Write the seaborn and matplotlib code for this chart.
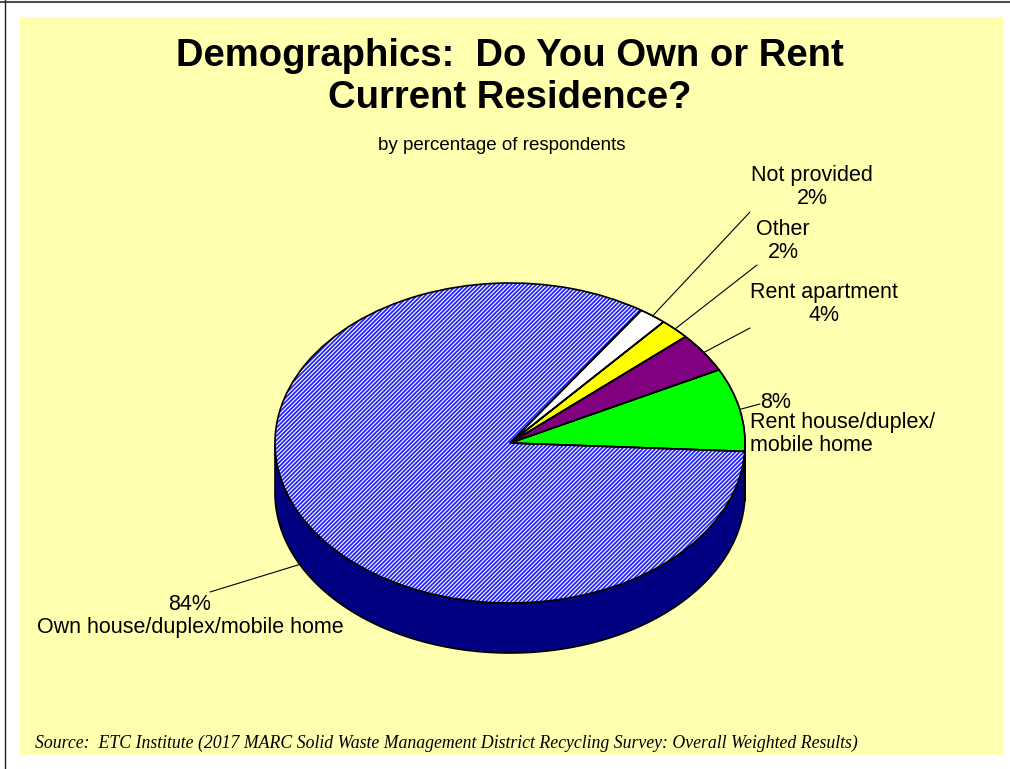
import numpy as np
import matplotlib
matplotlib.use("Agg")
import matplotlib.pyplot as plt
import seaborn as sns
from matplotlib.patches import Polygon, Rectangle
from matplotlib.lines import Line2D

# data, counterclockwise from the right edge of the pie
categories = ["Rent house/duplex/\nmobile home", "Rent apartment", "Other",
              "Not provided", "Own house/duplex/mobile home"]
shares = [8.4, 4.0, 2.1, 1.9, 83.6]
top_colors = ["#00FF00", "#800080", "#FFFF00", "#FFFFFF", "#FFFFFF"]
side_colors = ["#00A000", "#500050", "#B0B000", "#C0C0C0", "#000080"]

title = "Demographics:  Do You Own or Rent\nCurrent Residence?"
subtitle = "by percentage of respondents"
source = ("Source:  ETC Institute (2017 MARC Solid Waste Management District "
          "Recycling Survey: Overall Weighted Results)")

sns.set_style("white")
plt.rcParams["font.family"] = ["Liberation Sans", "DejaVu Sans"]
plt.rcParams["text.color"] = "black"
plt.rcParams["hatch.linewidth"] = 1.3

W, H = 1010, 769
fig = plt.figure(figsize=(W / 100, H / 100), dpi=100, facecolor="white")


def px(x, y):
    """pixel position (from top-left) -> figure fraction"""
    return (x / W, 1 - y / H)


# yellow panel and the thin frame lines (drawn below the axes)
fig.patches.append(Rectangle(px(20, 755), 983 / W, 738 / H, transform=fig.transFigure,
                             facecolor="#FFFFB0", edgecolor="none", zorder=-5))
fig.lines.append(Line2D([0, 1], [1 - 1.5 / H] * 2, transform=fig.transFigure,
                        color="#505050", lw=1.5, zorder=-4))
fig.lines.append(Line2D([4.5 / W] * 2, [0, 1], transform=fig.transFigure,
                        color="#202020", lw=1.0, zorder=-4))

# pie axes: ellipse centre and radii in pixels, depth of the side wall
cx, cy, rx, ry = 510, 443, 235, 160
depth = 50 / ry
pad_low = 1.25 + depth + 0.05
ax = fig.add_axes([(cx - 1.25 * rx) / W, (H - (cy + pad_low * ry)) / H,
                   2.5 * rx / W, (1.25 + pad_low) * ry / H])
ax.patch.set_alpha(0)

wedges, _ = ax.pie(shares, startangle=-3, colors=top_colors, counterclock=True,
                   wedgeprops=dict(linewidth=1, edgecolor="black"))
own = wedges[-1]
own.set_edgecolor("#2424FF")
own.set_linewidth(0)
own.set_hatch("////////")
ax.pie(shares, startangle=-3, counterclock=True,
       wedgeprops=dict(fill=False, linewidth=1.2, edgecolor="black"))

# side wall of the visible front half
for w, sc in zip(wedges, side_colors):
    t1, t2 = w.theta1, w.theta2
    for shift in (0, 360, -360):
        a, b = max(t1 + shift, 180), min(t2 + shift, 360)
        if b > a:
            t = np.radians(np.linspace(a, b, 200))
            xs = np.concatenate([np.cos(t), np.cos(t[::-1])])
            ys = np.concatenate([np.sin(t), np.sin(t[::-1]) - depth])
            ax.add_patch(Polygon(np.column_stack([xs, ys]), closed=True,
                                 facecolor=sc, edgecolor="black", lw=1.2, zorder=0.5))

ax.set_aspect("auto")
ax.set_xlim(-1.25, 1.25)
ax.set_ylim(-pad_low, 1.25)
ax.axis("off")

# leader lines: from the rim at the wedge middle to the label
line_ends = [(760, 404), (750, 328), (757, 265), (750, 212), (210, 592)]
for w, end in zip(wedges, line_ends):
    m = np.radians((w.theta1 + w.theta2) / 2)
    x0, y0 = np.cos(m), np.sin(m)
    if y0 < 0:
        y0 -= depth
    ax.annotate("", xy=(x0, y0), xycoords="data", xytext=px(*end),
                textcoords="figure fraction", annotation_clip=False,
                arrowprops=dict(arrowstyle="-", color="black", lw=0.8,
                                shrinkA=0, shrinkB=0))

lab_kw = dict(fontsize=15.5, color="black", linespacing=1.15)
pct = [f"{v:.0f}%" for v in shares]
fig.text(*px(776, 402), pct[0], ha="center", va="center", **lab_kw)
fig.text(*px(750, 434), categories[0], ha="left", va="center", **lab_kw)
fig.text(*px(824, 304), f"{categories[1]}\n{pct[1]}", ha="center", va="center", **lab_kw)
fig.text(*px(783, 241), f"{categories[2]}\n{pct[2]}", ha="center", va="center", **lab_kw)
fig.text(*px(812, 187), f"{categories[3]}\n{pct[3]}", ha="center", va="center", **lab_kw)
fig.text(*px(190, 616), f"{pct[4]}\n{categories[4]}", ha="center", va="center", **lab_kw)

fig.text(*px(510, 77), title, ha="center", va="center", fontsize=27.5,
         fontweight="bold", linespacing=1.2)
fig.text(*px(502, 145), subtitle, ha="center", va="center", fontsize=13.5)
fig.text(*px(35, 743), source, ha="left", va="center", fontsize=12.8,
         family=["Liberation Serif", "DejaVu Serif"], style="italic")

fig.savefig("out.png", dpi=100, facecolor=fig.get_facecolor())
